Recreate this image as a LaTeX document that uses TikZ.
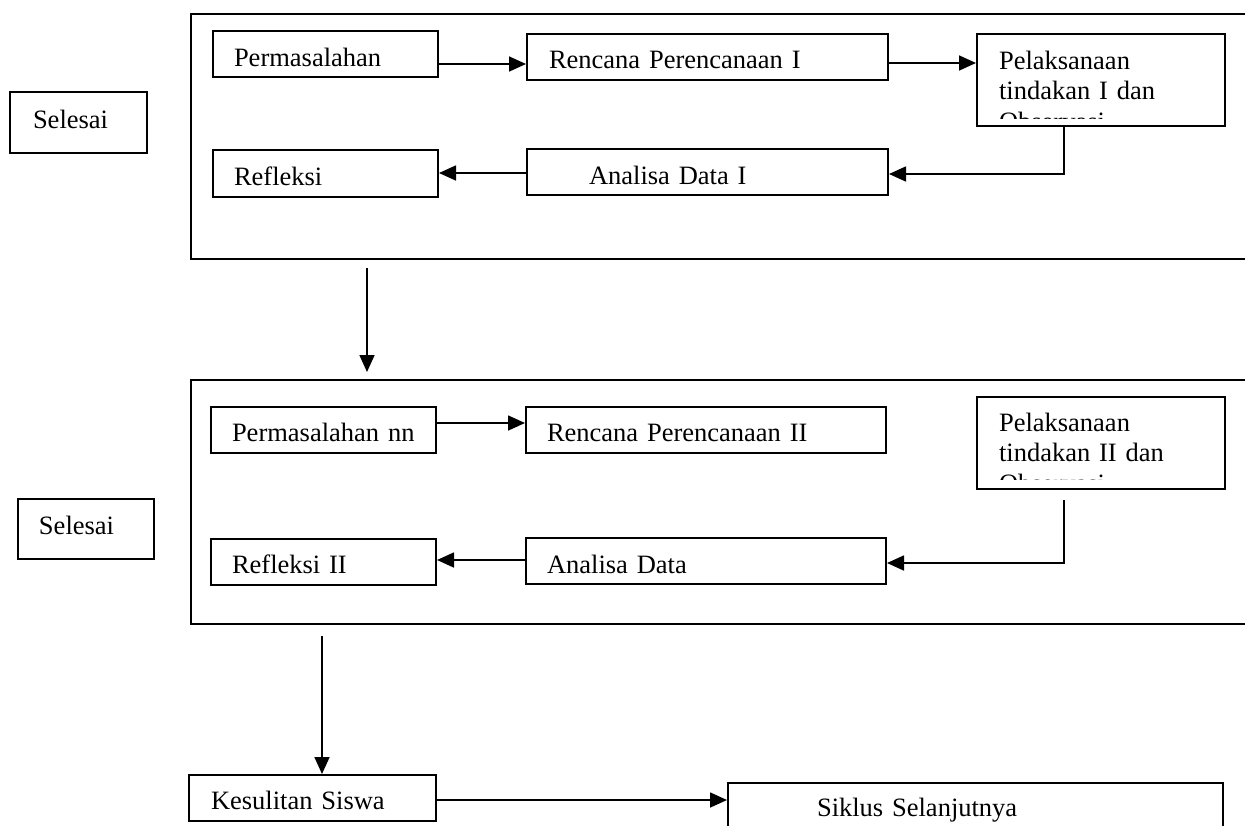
\documentclass[tikz,border=0pt]{standalone}
\usepackage{fontspec}
\setmainfont{Liberation Serif}
\usetikzlibrary{arrows.meta}
\newcommand\bxfont{\fontsize{13.25pt}{15.25pt}\selectfont}
\begin{document}
\begin{tikzpicture}[x=0.5pt,y=-0.5pt,
  box/.style={draw, line width=1pt, rectangle, anchor=north west, inner ysep=0pt,
    text depth=0pt, align=left, font=\bxfont},
  cycle/.style={draw, line width=1.1pt, rectangle, anchor=north west, inner sep=0pt},
  arr/.style={line width=0.85pt, -{Triangle[length=8.5pt,width=7.5pt]}},
  pltxt/.style={draw=none, anchor=base west, inner sep=0pt, minimum width=0pt, minimum height=0pt,
    text width=110pt, align=left, font=\bxfont}]
\useasboundingbox (0,0) rectangle (1245,825);

% outer cycle frames
\node[cycle, minimum width=536pt, minimum height=122.5pt] (cyc1) at (190,13) {};
\node[cycle, minimum width=536pt, minimum height=122pt] (cyc2) at (190,379) {};

% Selesai boxes
\node[box, minimum width=68.5pt, minimum height=30.5pt, inner xsep=11.5pt, text width=45.5pt, text height=5.5pt] (sel1) at (9,91) {Selesai};
\node[box, minimum width=68pt, minimum height=30pt, inner xsep=10.5pt, text width=47pt, text height=5pt] (sel2) at (17,498) {Selesai};

% cycle I
\node[box, minimum width=112.5pt, minimum height=23pt, inner xsep=10.5pt, text width=91.5pt, text height=12pt] (perm1) at (212,30) {Permasalahan};
\node[box, minimum width=180.5pt, minimum height=23pt, inner xsep=11pt, text width=158.5pt, text height=11pt] (renc1) at (526,33) {Rencana Perencanaan I};
\node[box, minimum width=124pt, minimum height=46pt,
  path picture={
    \clip ([yshift=4pt]path picture bounding box.south west) rectangle (path picture bounding box.north east);
    \node[pltxt] (pel1t) at ([xshift=10.5pt,yshift=-17.5pt]path picture bounding box.north west) {Pelaksanaan\\tindakan I dan\\Observasi};
  }] (pel1) at (976,33) {};
\node[box, minimum width=112.5pt, minimum height=23.5pt, inner xsep=10.5pt, text width=91.5pt, text height=11.5pt] (refl1) at (212,149) {Refleksi};
\node[box, minimum width=180.5pt, minimum height=23pt, inner xsep=31pt, text width=118.5pt, text height=12pt] (anal1) at (526,148) {Analisa Data I};

% cycle II
\node[box, minimum width=112.5pt, minimum height=23pt, inner xsep=10.5pt, text width=91.5pt, text height=11pt] (perm2) at (210,406) {Permasalahan nn};
\node[box, minimum width=180pt, minimum height=23pt, inner xsep=10.5pt, text width=159pt, text height=11pt] (renc2) at (525,406) {Rencana Perencanaan II};
\node[box, minimum width=124pt, minimum height=46pt,
  path picture={
    \clip ([yshift=5pt]path picture bounding box.south west) rectangle (path picture bounding box.north east);
    \node[pltxt] (pel2t) at ([xshift=10.5pt,yshift=-17pt]path picture bounding box.north west) {Pelaksanaan\\tindakan II dan\\Observasi};
  }] (pel2) at (976,396) {};
\node[box, minimum width=112.5pt, minimum height=23pt, inner xsep=10.5pt, text width=91.5pt, text height=11pt] (refl2) at (210,538) {Refleksi II};
\node[box, minimum width=180pt, minimum height=23pt, inner xsep=10.5pt, text width=159pt, text height=12pt] (anal2) at (525,537) {Analisa Data};

% bottom
\node[box, minimum width=123.5pt, minimum height=23pt, inner xsep=11pt, text width=101.5pt, text height=11pt] (kesul) at (188,774) {Kesulitan Siswa};
\node[box, minimum width=247.5pt, minimum height=23pt, inner xsep=44.5pt, text width=158.5pt, text height=10pt] (siklus) at (727,782) {Siklus Selanjutnya};

% helper coordinates
\coordinate (h1) at (0,64);
\coordinate (h2) at (0,63);
\coordinate (k1) at (1064,174);
\coordinate (h3) at (0,173);
\coordinate (a1s) at (367,268);
\coordinate (h4) at (0,423);
\coordinate (k2s) at (1064,500);
\coordinate (k2) at (1064,563);
\coordinate (h5) at (0,560);
\coordinate (a2s) at (322,636);
\coordinate (h6) at (0,800);

% connectors cycle I
\draw[arr] (perm1.east |- h1) -- (renc1.west |- h1);
\draw[arr] (renc1.east |- h2) -- (pel1.west |- h2);
\draw[arr] (pel1.south -| k1) -- (k1) -- (anal1.east |- k1);
\draw[arr] (anal1.west |- h3) -- (refl1.east |- h3);
% between cycles
\draw[arr, shorten >=3.5pt] (a1s) -- (a1s |- cyc2.north);
% connectors cycle II
\draw[arr] (perm2.east |- h4) -- (renc2.west |- h4);
\draw[arr] (k2s) -- (k2) -- (anal2.east |- k2);
\draw[arr] (anal2.west |- h5) -- (refl2.east |- h5);
% bottom
\draw[arr] (a2s) -- (a2s |- kesul.north);
\draw[arr] (kesul.east |- h6) -- (siklus.west |- h6);
\end{tikzpicture}
\end{document}
